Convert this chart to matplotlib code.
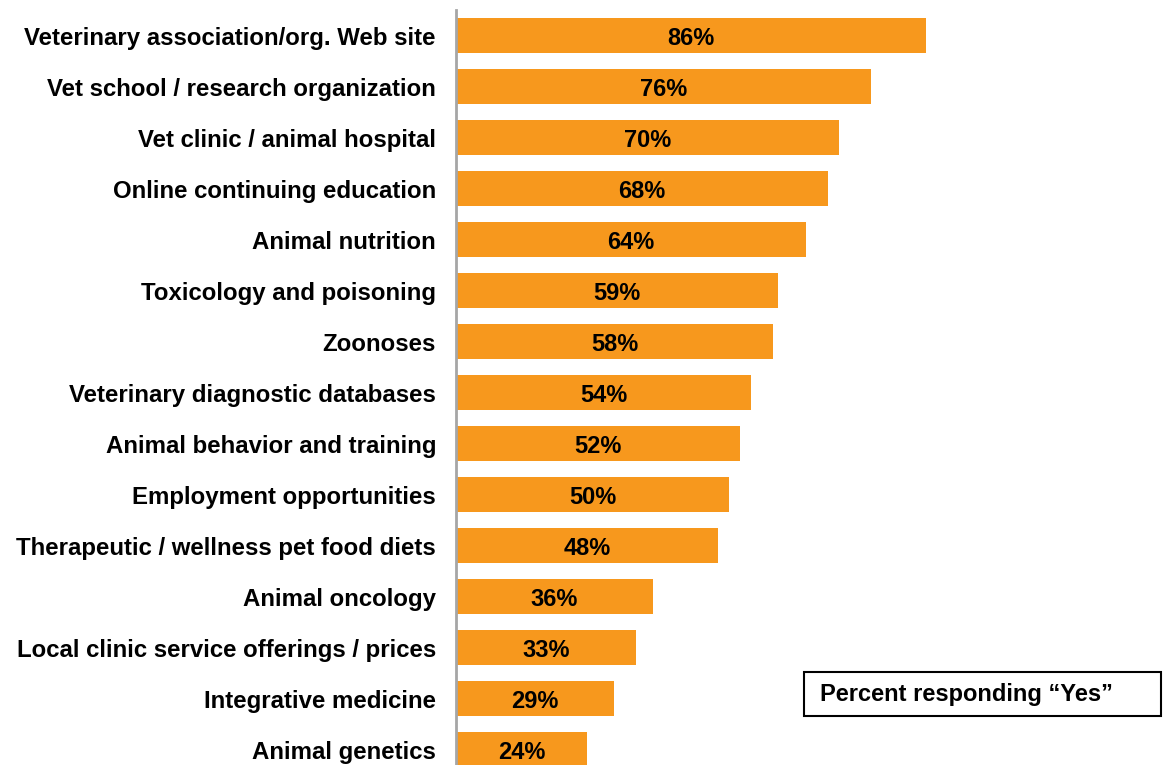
import matplotlib.pyplot as plt
from matplotlib.patches import Rectangle

# Share of respondents answering "Yes" per topic
categories = [
    "Veterinary association/org. Web site",
    "Vet school / research organization",
    "Vet clinic / animal hospital",
    "Online continuing education",
    "Animal nutrition",
    "Toxicology and poisoning",
    "Zoonoses",
    "Veterinary diagnostic databases",
    "Animal behavior and training",
    "Employment opportunities",
    "Therapeutic / wellness pet food diets",
    "Animal oncology",
    "Local clinic service offerings / prices",
    "Integrative medicine",
    "Animal genetics",
]
percent_yes = [86, 76, 70, 68, 64, 59, 58, 54, 52, 50, 48, 36, 33, 29, 24]
legend_text = "Percent responding \u201cYes\u201d"

plt.rcParams['font.family'] = ['Liberation Sans', 'DejaVu Sans']

W, H = 1163, 765
fig = plt.figure(figsize=(W / 100, H / 100), dpi=100)
ax = fig.add_axes([456 / W, 0, (W - 456) / W, (H - 10) / H])

ypos = list(range(len(categories)))
bars = ax.barh(ypos, percent_yes, height=0.686, color="#F7981D", zorder=2)

for rect, val in zip(bars, percent_yes):
    ax.text(rect.get_width() / 2, rect.get_y() + rect.get_height() / 2, f"{val}%",
            ha="center", va="center_baseline", fontsize=17, fontweight="bold", color="black")

ax.set_xlim(0, (W - 456) / 5.465)
ax.set_ylim(14.30, -0.5)
ax.set_yticks(ypos)
ax.set_yticklabels(categories, fontsize=17.3, fontweight="bold")
ax.tick_params(axis="y", length=0, pad=14.4)
ax.set_xticks([])

for side in ["top", "right", "bottom"]:
    ax.spines[side].set_visible(False)
ax.spines["left"].set_color("#A6A6A6")
ax.spines["left"].set_linewidth(2)

# Boxed note at lower right
fig.patches.append(Rectangle((804 / W, 1 - 716 / H), (1161 - 804) / W, 44 / H,
                             transform=fig.transFigure, fill=False,
                             edgecolor="black", linewidth=1.5))
fig.text(820 / W, 1 - 695 / H, legend_text, ha="left", va="center",
         fontsize=17, fontweight="bold")

fig.savefig("out.png", dpi=100)
